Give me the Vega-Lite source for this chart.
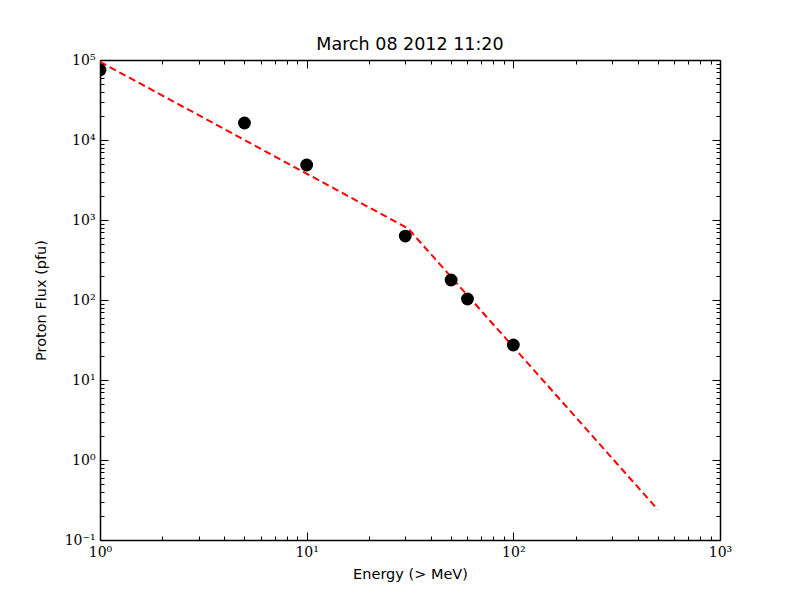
{
  "$schema": "https://vega.github.io/schema/vega-lite/v6.json",
  "width": 620,
  "height": 480,
  "autosize": "none",
  "padding": {"left": 100, "top": 60, "right": 80, "bottom": 60},
  "background": "white",
  "title": {
    "text": "March 08 2012 11:20",
    "font": "DejaVu Sans",
    "fontSize": 17.5,
    "fontWeight": "normal",
    "color": "black",
    "offset": 0
  },
  "datasets": {
    "points": [
      {"energy": 1, "flux": 75000},
      {"energy": 5, "flux": 16300},
      {"energy": 10, "flux": 4870},
      {"energy": 30, "flux": 630},
      {"energy": 50, "flux": 178},
      {"energy": 60, "flux": 103},
      {"energy": 100, "flux": 27.4}
    ],
    "fit": [
      {"energy": 1, "flux": 95000},
      {"energy": 31, "flux": 780},
      {"energy": 500, "flux": 0.24}
    ]
  },
  "layer": [
    {
      "data": {"name": "fit"},
      "mark": {"type": "line", "color": "red", "strokeWidth": 2, "strokeDash": [7, 4], "clip": true},
      "encoding": {
        "x": {
          "field": "energy",
          "type": "quantitative",
          "scale": {"type": "log", "domain": [1, 1000], "nice": false},
          "axis": {
            "orient": "bottom",
            "title": "Energy (> MeV)",
            "values": [1, 2, 3, 4, 5, 6, 7, 8, 9, 10, 20, 30, 40, 50, 60, 70, 80, 90, 100, 200, 300, 400, 500, 600, 700, 800, 900, 1000],
            "labelExpr": "indexof([1, 10, 100, 1000], datum.value) >= 0 ? '10' + ['⁰', '¹', '²', '³'][indexof([1, 10, 100, 1000], datum.value)] : ''",
            "tickSize": {"condition": {"test": "indexof([1, 10, 100, 1000], datum.value) >= 0", "value": -8}, "value": -4},
            "labelPadding": 13,
            "titleX": 310,
            "titleY": 38,
            "titleAlign": "center",
            "titleBaseline": "alphabetic"
          }
        },
        "y": {
          "field": "flux",
          "type": "quantitative",
          "scale": {"type": "log", "domain": [0.1, 100000], "nice": false},
          "axis": {
            "orient": "left",
            "title": "Proton Flux (pfu)",
            "values": [0.1, 0.2, 0.3, 0.4, 0.5, 0.6, 0.7, 0.8, 0.9, 1, 2, 3, 4, 5, 6, 7, 8, 9, 10, 20, 30, 40, 50, 60, 70, 80, 90, 100, 200, 300, 400, 500, 600, 700, 800, 900, 1000, 2000, 3000, 4000, 5000, 6000, 7000, 8000, 9000, 10000, 20000, 30000, 40000, 50000, 60000, 70000, 80000, 90000, 100000],
            "labelExpr": "indexof([0.1, 1, 10, 100, 1000, 10000, 100000], datum.value) >= 0 ? '10' + ['⁻¹', '⁰', '¹', '²', '³', '⁴', '⁵'][indexof([0.1, 1, 10, 100, 1000, 10000, 100000], datum.value)] : ''",
            "tickSize": {"condition": {"test": "indexof([0.1, 1, 10, 100, 1000, 10000, 100000], datum.value) >= 0", "value": -8}, "value": -4},
            "labelPadding": 13,
            "labelBaseline": "middle",
            "titleX": -55,
            "titleY": 240,
            "titleAngle": -90,
            "titleAlign": "center",
            "titleBaseline": "alphabetic"
          }
        }
      }
    },
    {
      "data": {"name": "points"},
      "mark": {"type": "circle", "color": "black", "opacity": 1, "size": 165, "clip": true},
      "encoding": {
        "x": {
          "field": "energy",
          "type": "quantitative",
          "axis": {
            "orient": "top",
            "title": null,
            "labels": false,
            "values": [1, 2, 3, 4, 5, 6, 7, 8, 9, 10, 20, 30, 40, 50, 60, 70, 80, 90, 100, 200, 300, 400, 500, 600, 700, 800, 900, 1000],
            "tickSize": {"condition": {"test": "indexof([1, 10, 100, 1000], datum.value) >= 0", "value": -8}, "value": -4}
          }
        },
        "y": {
          "field": "flux",
          "type": "quantitative",
          "axis": {
            "orient": "right",
            "title": null,
            "labels": false,
            "values": [0.1, 0.2, 0.3, 0.4, 0.5, 0.6, 0.7, 0.8, 0.9, 1, 2, 3, 4, 5, 6, 7, 8, 9, 10, 20, 30, 40, 50, 60, 70, 80, 90, 100, 200, 300, 400, 500, 600, 700, 800, 900, 1000, 2000, 3000, 4000, 5000, 6000, 7000, 8000, 9000, 10000, 20000, 30000, 40000, 50000, 60000, 70000, 80000, 90000, 100000],
            "tickSize": {"condition": {"test": "indexof([0.1, 1, 10, 100, 1000, 10000, 100000], datum.value) >= 0", "value": -8}, "value": -4}
          }
        }
      }
    }
  ],
  "config": {
    "view": {"stroke": null},
    "axis": {
      "grid": false,
      "domainColor": "black",
      "domainWidth": 1.5,
      "tickColor": "black",
      "tickWidth": 1,
      "labelFont": "DejaVu Serif",
      "labelFontSize": 14,
      "labelColor": "black",
      "labelOverlap": false,
      "labelFlush": false,
      "titleFont": "DejaVu Sans",
      "titleFontSize": 14.5,
      "titleFontWeight": "normal",
      "titleColor": "black"
    }
  }
}
